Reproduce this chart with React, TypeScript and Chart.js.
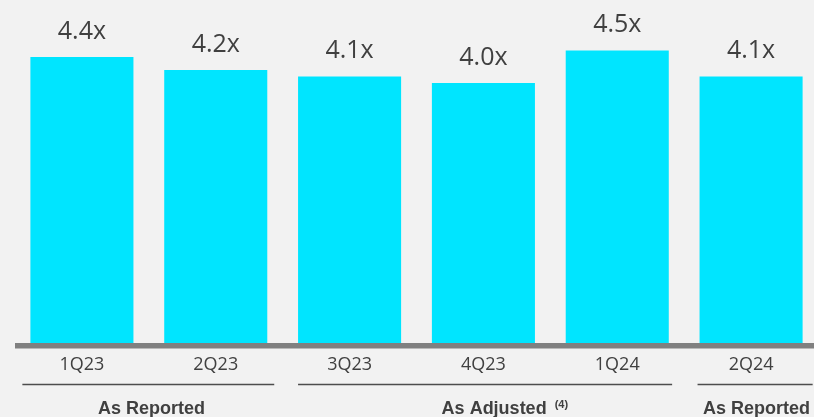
import React, { useEffect, useRef } from "react";
import { Chart, registerables } from "chart.js";

Chart.register(...registerables);

const categories = ["1Q23", "2Q23", "3Q23", "4Q23", "1Q24", "2Q24"];
const leverage = [4.4, 4.2, 4.1, 4.0, 4.5, 4.1];
const valueLabels = ["4.4x", "4.2x", "4.1x", "4.0x", "4.5x", "4.1x"];
const groupLabels = ["As Reported", "As Adjusted", "As Reported"];
const groupNotes = ["", "(4)", ""];

// layout of group brackets, in category-index units
const groupStart = [-0.445, 1.615, 4.6];
const groupEnd = [1.437, 4.41, 5.46];
const groupLabelAt = [0.52, 3.08, 5.04];

const TEXT = "#404040";

const decorPlugin = {
  id: "decor",
  beforeDraw(chart: any) {
    const ctx = chart.ctx;
    ctx.save();
    ctx.fillStyle = "#f2f2f2";
    ctx.fillRect(0, 0, chart.width, chart.height);
    ctx.restore();
  },
  afterDraw(chart: any) {
    const ctx = chart.ctx;
    const area = chart.chartArea;
    const xs = chart.scales.x;
    ctx.save();
    // axis bar
    ctx.fillStyle = "#808080";
    ctx.fillRect(area.left, area.bottom, chart.width - area.left, 5.5);
    // value labels
    const meta = chart.getDatasetMeta(0);
    ctx.fillStyle = TEXT;
    ctx.font = "25px 'Open Sans'";
    ctx.textAlign = "center";
    ctx.textBaseline = "alphabetic";
    meta.data.forEach((el: any, i: number) => {
      ctx.fillText(valueLabels[i], el.x, el.y - 18.5);
    });
    // group brackets
    ctx.strokeStyle = "#4d4d4d";
    ctx.lineWidth = 1.5;
    groupLabels.forEach((lab, i) => {
      const x0 = xs.getPixelForValue(groupStart[i]);
      const x1 = xs.getPixelForValue(groupEnd[i]);
      const y = area.bottom + 41.5;
      ctx.beginPath();
      ctx.moveTo(x0, y);
      ctx.lineTo(x1, y);
      ctx.stroke();
      const cx = xs.getPixelForValue(groupLabelAt[i]);
      ctx.font = "bold 18px 'Liberation Sans', Arial, sans-serif";
      ctx.textAlign = "center";
      ctx.fillStyle = TEXT;
      ctx.fillText(lab, cx, area.bottom + 71);
      if (groupNotes[i]) {
        const w = ctx.measureText(lab).width;
        ctx.font = "bold 11px 'Liberation Sans', Arial, sans-serif";
        ctx.textAlign = "left";
        ctx.fillText(groupNotes[i], cx + w / 2 + 8, area.bottom + 65);
      }
    });
    ctx.restore();
  },
};

export default function App() {
  const ref = useRef<HTMLCanvasElement | null>(null);
  useEffect(() => {
    document.body.style.margin = "0";
    document.body.style.background = "#f2f2f2";
    document.documentElement.style.background = "#f2f2f2";
    if (!ref.current) return;
    const chart = new Chart(ref.current, {
      type: "bar",
      data: {
        labels: categories,
        datasets: [
          {
            data: leverage,
            backgroundColor: "#00E5FF",
            barPercentage: 0.77,
            categoryPercentage: 1.0,
          },
        ],
      },
      options: {
        responsive: false,
        animation: false,
        layout: { padding: { left: 15, top: 18, right: 0, bottom: 0 } },
        plugins: {
          legend: { display: false },
          tooltip: { enabled: false },
        },
        scales: {
          x: {
            grid: { display: false, drawTicks: false },
            border: { display: false },
            ticks: {
              color: TEXT,
              font: { family: "'Open Sans'", size: 18 },
              padding: 11,
              maxRotation: 0,
              autoSkip: false,
            },
            afterFit(scale: any) {
              scale.height = 74;
            },
          },
          y: { display: false, min: 0, max: 5 },
        },
      },
      plugins: [decorPlugin],
    });
    return () => chart.destroy();
  }, []);
  return (
    <div
      style={{
        width: 814,
        height: 417,
        overflow: "hidden",
        background: "#f2f2f2",
      }}
    >
      <canvas
        ref={ref}
        width={818}
        height={417}
        style={{ display: "block", width: 818, height: 417 }}
      />
    </div>
  );
}
